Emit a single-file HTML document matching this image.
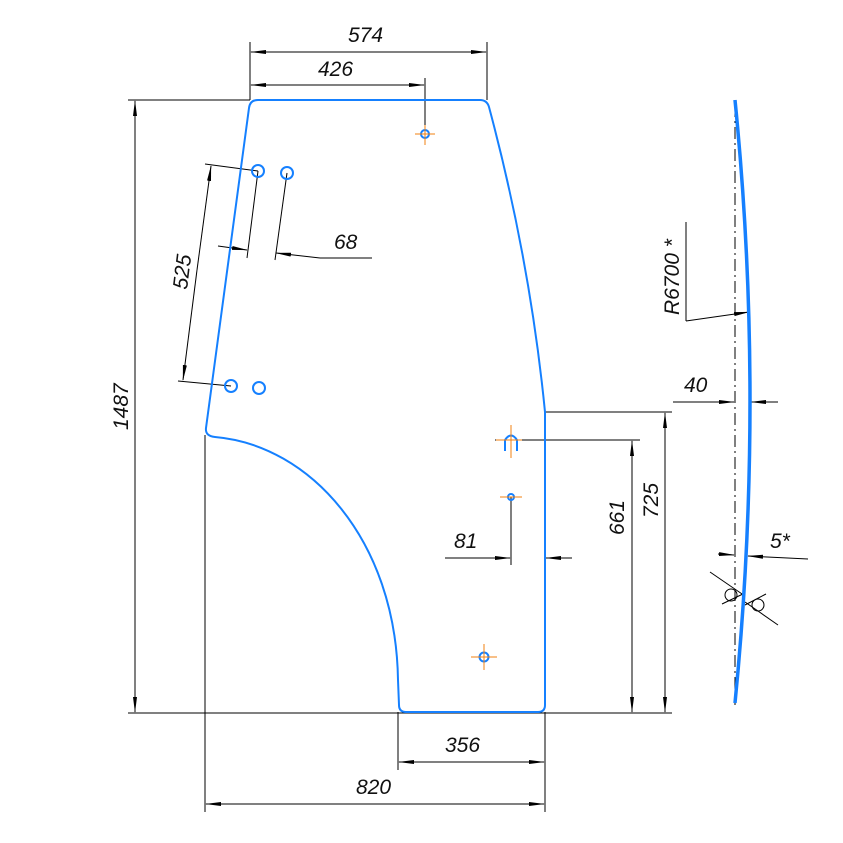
<!DOCTYPE html>
<html><head><style>body{margin:0;background:#fff}svg{display:block}text{font-family:"Liberation Sans",sans-serif;font-style:italic;font-size:21px;fill:#111}</style></head><body>
<svg width="843" height="843" viewBox="0 0 843 843" xmlns="http://www.w3.org/2000/svg">
<defs><marker id="a" markerWidth="16" markerHeight="6" refX="15" refY="3" orient="auto" markerUnits="userSpaceOnUse"><path d="M0,1 L16,3 L0,5z" fill="#000"/></marker></defs>
<g stroke="#000" stroke-width="1" fill="none">
<line x1="250" y1="42" x2="250" y2="100"/><line x1="487" y1="42" x2="487" y2="100"/>
<line x1="270" y1="52" x2="251" y2="52" marker-end="url(#a)"/><line x1="270" y1="52" x2="486" y2="52" marker-end="url(#a)"/>
<line x1="425" y1="78" x2="425" y2="145"/>
<line x1="300" y1="85" x2="251" y2="85" marker-end="url(#a)"/><line x1="300" y1="85" x2="424" y2="85" marker-end="url(#a)"/>
<line x1="128" y1="100" x2="250" y2="100"/><line x1="128" y1="713" x2="672" y2="713"/>
<line x1="135" y1="400" x2="135" y2="101" marker-end="url(#a)"/><line x1="135" y1="400" x2="135" y2="712" marker-end="url(#a)"/>
<line x1="205" y1="435" x2="205" y2="812"/><line x1="545" y1="712" x2="545" y2="812"/>
<line x1="370" y1="804" x2="206" y2="804" marker-end="url(#a)"/><line x1="370" y1="804" x2="544" y2="804" marker-end="url(#a)"/>
<line x1="398" y1="712" x2="398" y2="770"/>
<line x1="470" y1="762" x2="399" y2="762" marker-end="url(#a)"/><line x1="470" y1="762" x2="544" y2="762" marker-end="url(#a)"/>
<line x1="545" y1="412" x2="672" y2="412"/><line x1="495" y1="440" x2="640" y2="440"/>
<line x1="665" y1="560" x2="665" y2="413" marker-end="url(#a)"/><line x1="665" y1="560" x2="665" y2="712" marker-end="url(#a)"/>
<line x1="632" y1="560" x2="632" y2="441" marker-end="url(#a)"/><line x1="632" y1="560" x2="632" y2="712" marker-end="url(#a)"/>
<line x1="511" y1="497" x2="511" y2="565"/>
<line x1="445" y1="558" x2="510" y2="558" marker-end="url(#a)"/><line x1="572" y1="558" x2="546" y2="558" marker-end="url(#a)"/>
<line x1="205" y1="164" x2="258" y2="171"/><line x1="178" y1="381" x2="231" y2="386"/>
<line x1="197" y1="270" x2="211" y2="166" marker-end="url(#a)"/><line x1="197" y1="270" x2="183" y2="380" marker-end="url(#a)"/>
<line x1="258" y1="171" x2="247" y2="258"/><line x1="287" y1="173" x2="275" y2="260"/>
<line x1="218" y1="246" x2="247" y2="250" marker-end="url(#a)"/><line x1="320" y1="258" x2="276" y2="253" marker-end="url(#a)"/><line x1="320" y1="258" x2="372" y2="258"/>
<line x1="686" y1="222" x2="686" y2="321"/><line x1="686" y1="321" x2="749" y2="312" marker-end="url(#a)"/>
<line x1="673" y1="402" x2="734" y2="402" marker-end="url(#a)"/><line x1="778" y1="402" x2="751" y2="402" marker-end="url(#a)"/>
<line x1="718" y1="554" x2="734" y2="555" marker-end="url(#a)"/><line x1="808" y1="559" x2="748" y2="556" marker-end="url(#a)"/>
<line x1="735" y1="105" x2="735" y2="705" stroke-dasharray="12,4,2,4"/>
<line x1="710" y1="572" x2="745" y2="596"/><line x1="722" y1="604" x2="745" y2="593"/>
<line x1="778" y1="625" x2="745" y2="602"/><line x1="766" y1="594" x2="745" y2="605"/>
<circle cx="731" cy="595" r="6"/><circle cx="758" cy="605" r="6"/>
</g>
<g stroke="#1580ff" stroke-width="2" fill="none">
<path d="M258,100 L480,100 Q487,100 489,107 Q530,260 545,412 L545,705 Q545,712 538,712 L406,712 Q399,712 399,705 L398,680 C396,540 310,445 215,437 Q205,436 206,428 L249,108 Q250,100 258,100Z"/>
<circle cx="258" cy="171" r="6"/><circle cx="287" cy="173" r="6"/><circle cx="231" cy="386" r="6"/><circle cx="259" cy="388" r="6"/>
<circle cx="425" cy="134" r="4"/><circle cx="511" cy="497" r="3"/><circle cx="484" cy="657" r="4.5"/>
<path d="M505,451 L505,440 Q511,431 517,440 L517,451"/>
<path d="M735,100 Q765,400 735,703" stroke-width="3.5"/>
</g>
<g stroke="#f08010" stroke-width="1">
<line x1="415" y1="134" x2="435" y2="134"/><line x1="425" y1="125" x2="425" y2="145"/>
<line x1="496" y1="440" x2="522" y2="440"/><line x1="511" y1="425" x2="511" y2="458"/>
<line x1="500" y1="497" x2="522" y2="497"/><line x1="471" y1="657" x2="497" y2="657"/><line x1="484" y1="644" x2="484" y2="670"/>
</g>
<text x="348" y="42">574</text><text x="318" y="76">426</text><text x="334" y="249">68</text>
<text transform="translate(128,430) rotate(-90)">1487</text>
<text transform="translate(187,290) rotate(-83)">525</text>
<text x="356" y="794">820</text><text x="445" y="752">356</text><text x="454" y="548">81</text>
<text transform="translate(624,535) rotate(-90)">661</text><text transform="translate(658,518) rotate(-90)">725</text>
<text transform="translate(679,315) rotate(-90)">R6700 *</text>
<text x="684" y="392">40</text><text x="770" y="548">5*</text>
</svg>
</body></html>
